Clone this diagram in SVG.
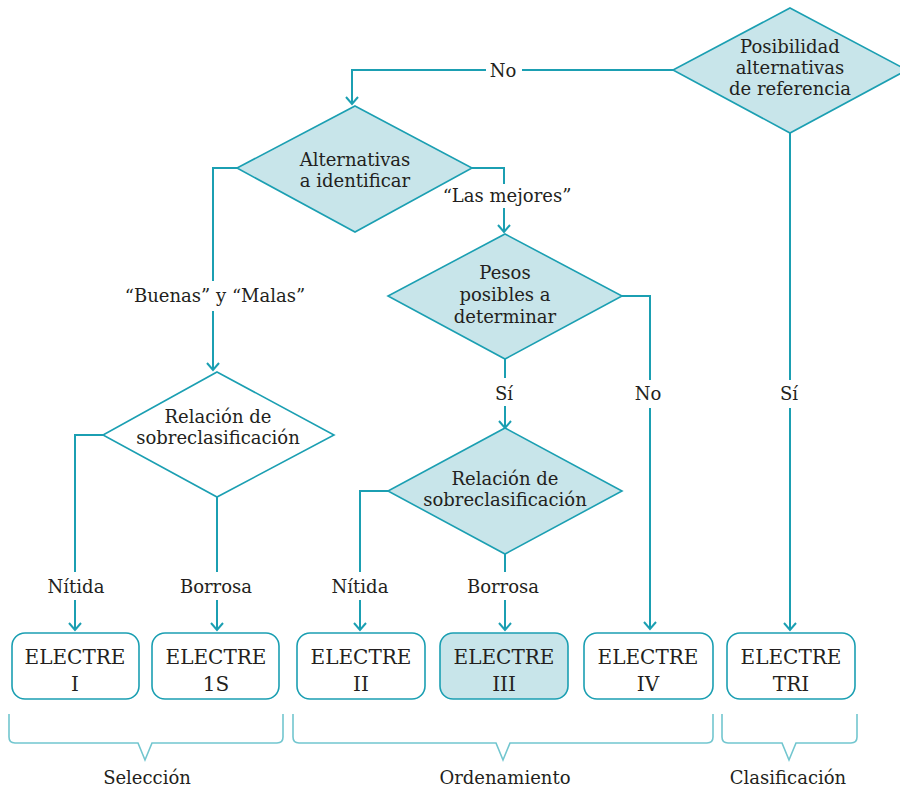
<svg xmlns="http://www.w3.org/2000/svg" width="900" height="790" viewBox="0 0 900 790">
<style>
  .dia { stroke:#1b9fb2; stroke-width:1.6; stroke-linejoin:miter; }
  .fill { fill:#c8e5ea; }
  .white { fill:#ffffff; }
  .box { stroke:#1b9fb2; stroke-width:1.6; }
  .t { font-family:"DejaVu Serif","Liberation Serif",serif; font-size:18px; fill:#231f20; text-anchor:middle; }
  .tb { font-family:"DejaVu Serif","Liberation Serif",serif; font-size:20px; fill:#231f20; text-anchor:middle; }
  .con path { fill:none; stroke:#1b9fb2; stroke-width:2; }
  .brace path { fill:none; stroke:#72c6cf; stroke-width:1.6; }
</style>
<rect width="900" height="790" fill="#ffffff"/>

<g id="connectors" class="con">
  <path d="M673,70 H522 M486,70 H352 V103"/>
  <path d="M346,97 L352,104 L358,97"/>
  <path d="M237,168 H213 V281 M213,311 V369"/>
  <path d="M207,363 L213,370 L219,363"/>
  <path d="M472,168 H504 V184 M504,208 V231"/>
  <path d="M498,225 L504,232 L510,225"/>
  <path d="M622,296 H650 V380 M650,408 V628"/>
  <path d="M644,622 L650,629 L656,622"/>
  <path d="M505,359 V378 M505,406 V427"/>
  <path d="M499,421 L505,428 L511,421"/>
  <path d="M103,435 H75 V572 M75,600 V629"/>
  <path d="M69,623 L75,630 L81,623"/>
  <path d="M217,497 V572 M217,600 V629"/>
  <path d="M211,623 L217,630 L223,623"/>
  <path d="M388,491 H360 V572 M360,600 V629"/>
  <path d="M354,623 L360,630 L366,623"/>
  <path d="M505,554 V572 M505,600 V629"/>
  <path d="M499,623 L505,630 L511,623"/>
  <path d="M790,133 V380 M790,408 V629"/>
  <path d="M784,623 L790,630 L796,623"/>
</g>

<g id="connector-labels">
  <text class="t" x="503" y="77">No</text>
  <text class="t" x="215" y="302">“Buenas” y “Malas”</text>
  <text class="t" x="507" y="202">“Las mejores”</text>
  <text class="t" x="648" y="400">No</text>
  <text class="t" x="504" y="400">Sí</text>
  <text class="t" x="76" y="593">Nítida</text>
  <text class="t" x="216" y="593">Borrosa</text>
  <text class="t" x="360" y="593">Nítida</text>
  <text class="t" x="503" y="593">Borrosa</text>
  <text class="t" x="789" y="400">Sí</text>
</g>

<g id="d-posibilidad">
  <polygon class="dia fill" points="790,8 907,70 790,133 673,70"/>
  <text class="t" x="790" y="53">Posibilidad</text>
  <text class="t" x="790" y="74">alternativas</text>
  <text class="t" x="790" y="95">de referencia</text>
</g>

<g id="d-alternativas">
  <polygon class="dia fill" points="355,106 472,168 355,232 237,168"/>
  <text class="t" x="355" y="166">Alternativas</text>
  <text class="t" x="355" y="187">a identificar</text>
</g>

<g id="d-pesos">
  <polygon class="dia fill" points="505,234 622,296 505,359 388,296"/>
  <text class="t" x="505" y="279">Pesos</text>
  <text class="t" x="505" y="301">posibles a</text>
  <text class="t" x="505" y="323">determinar</text>
</g>

<g id="d-relacion-1">
  <polygon class="dia white" points="217,372 334,435 217,497 103,435"/>
  <text class="t" x="218" y="423">Relación de</text>
  <text class="t" x="218" y="444">sobreclasificación</text>
</g>

<g id="d-relacion-2">
  <polygon class="dia fill" points="505,428 622,491 505,554 388,491"/>
  <text class="t" x="505" y="485">Relación de</text>
  <text class="t" x="505" y="506">sobreclasificación</text>
</g>

<g id="b-electre-i">
  <rect class="box white" x="12" y="633" width="127" height="66" rx="13"/>
  <text class="tb" x="75" y="664">ELECTRE</text>
  <text class="tb" x="75" y="691">I</text>
</g>
<g id="b-electre-1s">
  <rect class="box white" x="152" y="633" width="127" height="66" rx="13"/>
  <text class="tb" x="216" y="664">ELECTRE</text>
  <text class="tb" x="216" y="691">1S</text>
</g>
<g id="b-electre-ii">
  <rect class="box white" x="297" y="633" width="128" height="66" rx="13"/>
  <text class="tb" x="361" y="664">ELECTRE</text>
  <text class="tb" x="361" y="691">II</text>
</g>
<g id="b-electre-iii">
  <rect class="box fill" x="440" y="633" width="128" height="66" rx="13"/>
  <text class="tb" x="504" y="664">ELECTRE</text>
  <text class="tb" x="504" y="691">III</text>
</g>
<g id="b-electre-iv">
  <rect class="box white" x="584" y="633" width="129" height="66" rx="13"/>
  <text class="tb" x="648" y="664">ELECTRE</text>
  <text class="tb" x="648" y="691">IV</text>
</g>
<g id="b-electre-tri">
  <rect class="box white" x="727" y="633" width="128" height="66" rx="13"/>
  <text class="tb" x="791" y="664">ELECTRE</text>
  <text class="tb" x="791" y="691">TRI</text>
</g>

<g id="braces" class="brace">
  <path d="M9,714 V737 Q9,743 15,743 H138 L145,760 L152,743 H277 Q283,743 283,737 V714"/>
  <path d="M293,714 V737 Q293,743 299,743 H496 L503,760 L510,743 H707 Q713,743 713,737 V714"/>
  <path d="M722,714 V737 Q722,743 728,743 H782 L789,760 L796,743 H851 Q857,743 857,737 V714"/>
</g>

<g id="group-labels">
  <text class="t" x="147" y="784">Selección</text>
  <text class="t" x="505" y="784">Ordenamiento</text>
  <text class="t" x="788" y="784">Clasificación</text>
</g>
</svg>
